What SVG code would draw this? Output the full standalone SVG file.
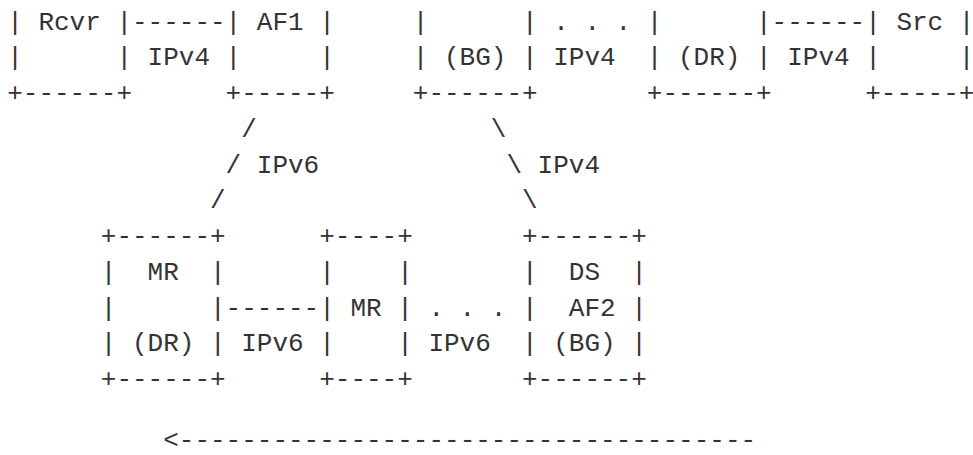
<svg xmlns="http://www.w3.org/2000/svg" width="973" height="455" viewBox="0 0 973 455" xml:space="preserve">
<style>
text { font-family: "Liberation Mono", "DejaVu Sans Mono", monospace; font-size: 26px; fill: #333333; white-space: pre; }
</style>
<rect width="973" height="455" fill="#ffffff"/>
<g id="node-rcvr">
<text x="7.2" y="29.5">| Rcvr |</text>
<text x="7.2" y="65.25">|      |</text>
<text x="7.2" y="101">+------+</text>
</g>
<g id="node-af1">
<text x="225.6" y="29.5">| AF1 |</text>
<text x="225.6" y="65.25">|     |</text>
<text x="225.6" y="101">+-----+</text>
</g>
<g id="node-bg">
<text x="412.8" y="29.5">|      |</text>
<text x="412.8" y="65.25">| (BG) |</text>
<text x="412.8" y="101">+------+</text>
</g>
<g id="node-dr">
<text x="646.8" y="29.5">|      |</text>
<text x="646.8" y="65.25">| (DR) |</text>
<text x="646.8" y="101">+------+</text>
</g>
<g id="node-src">
<text x="865.2" y="29.5">| Src |</text>
<text x="865.2" y="65.25">|     |</text>
<text x="865.2" y="101">+-----+</text>
</g>
<g id="node-mr-dr">
<text x="100.8" y="244">+------+</text>
<text x="100.8" y="279.75">|  MR  |</text>
<text x="100.8" y="315.5">|      |</text>
<text x="100.8" y="351.25">| (DR) |</text>
<text x="100.8" y="387">+------+</text>
</g>
<g id="node-mr">
<text x="319.2" y="244">+----+</text>
<text x="319.2" y="279.75">|    |</text>
<text x="319.2" y="315.5">| MR |</text>
<text x="319.2" y="351.25">|    |</text>
<text x="319.2" y="387">+----+</text>
</g>
<g id="node-ds">
<text x="522" y="244">+------+</text>
<text x="522" y="279.75">|  DS  |</text>
<text x="522" y="315.5">|  AF2 |</text>
<text x="522" y="351.25">| (BG) |</text>
<text x="522" y="387">+------+</text>
</g>
<g id="connectors">
<text x="132" y="29.5">------</text>
<text x="147.6" y="65.25">IPv4</text>
<text x="553.2" y="29.5">. . .</text>
<text x="553.2" y="65.25">IPv4</text>
<text x="771.6" y="29.5">------</text>
<text x="787.2" y="65.25">IPv4</text>
<text x="241.2" y="136.75">/</text>
<text x="225.6" y="172.5">/ IPv6</text>
<text x="210" y="208.25">/</text>
<text x="490.8" y="136.75">\</text>
<text x="506.4" y="172.5">\ IPv4</text>
<text x="522" y="208.25">\</text>
<text x="225.6" y="315.5">------</text>
<text x="241.2" y="351.25">IPv6</text>
<text x="428.4" y="315.5">. . .</text>
<text x="428.4" y="351.25">IPv6</text>
<text x="163.2" y="447.5">&lt;-------------------------------------</text>
</g>
</svg>
